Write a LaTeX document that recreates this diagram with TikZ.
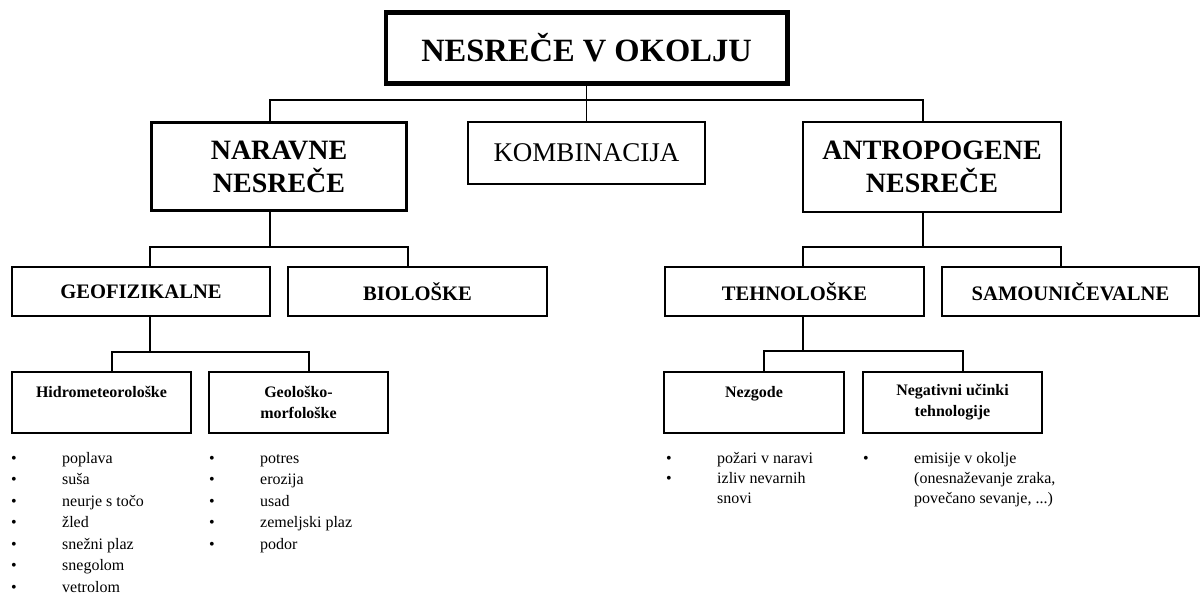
\documentclass[tikz,border=0pt]{standalone}
\usepackage{fontspec}
\setmainfont{Liberation Serif}
\newfontfamily\boxfont{Liberation Serif}

\tikzset{
  box/.style={draw, line width=1.1pt, inner sep=0pt, align=center},
  topbox/.style={box, line width=3.5pt, minimum width=402.5pt, minimum height=72.5pt,
    font=\boxfont\fontsize{32.5}{40}\selectfont\bfseries},
  mainbox/.style={box, minimum width=258pt, minimum height=90pt,
    font=\boxfont\fontsize{28}{33}\selectfont\bfseries},
  groupbox/.style={box, minimum width=258pt, minimum height=49pt,
    font=\boxfont\fontsize{20.6}{25}\selectfont\bfseries},
  typebox/.style={box, minimum width=179pt, minimum height=61pt,
    font=\boxfont\fontsize{16}{21}\selectfont\bfseries},
  itemlist/.style={anchor=base west, inner sep=0pt,
    font=\boxfont\fontsize{16}{21.5}\selectfont},
  link/.style={line width=1.1pt}
}
\newcommand\bul{\makebox[51pt][l]{•}}

\begin{document}
\begin{tikzpicture}[x=1pt,y=-1pt]
  \useasboundingbox (0,0) rectangle (1203,595);

  % top
  \node[topbox] (title) at (586.5,48) {NESREČE V OKOLJU};
  \draw[line width=1.5pt] ([shift={(4,4)}]title.north west)
    rectangle ([shift={(-4,-4)}]title.south east);

  % first level
  \node[mainbox, line width=2.8pt, minimum width=255pt, minimum height=88pt]
    (nar) at (279,166.5) {NARAVNE\\NESREČE};
  \node[box, minimum width=237pt, minimum height=62pt,
    font=\boxfont\fontsize{27}{33}\selectfont] (komb) at (586.5,153) {KOMBINACIJA};
  \node[mainbox] (ant) at (932,167) {ANTROPOGENE\\NESREČE};

  % second level
  \node[groupbox] (geo) at (141,291.5) {GEOFIZIKALNE};
  \node[groupbox, minimum width=259pt] (bio) at (417.5,291.5) {BIOLOŠKE};
  \node[groupbox, minimum width=259pt] (teh) at (794.5,291.5) {TEHNOLOŠKE};
  \node[groupbox, minimum width=257pt] (samo) at (1070.5,291.5) {SAMOUNIČEVALNE};

  % third level
  \node[typebox] (hid) at (101.5,402.5) {Hidrometeorološke\\\mbox{}};
  \node[typebox] (geol) at (298.5,402.5) {Geološko-\\morfološke};
  \node[typebox, minimum width=180pt] (nez) at (754,402.5) {Nezgode\\\mbox{}};
  \node[typebox] (neg) at (952.5,402.5) {Negativni učinki\\tehnologije};

  % lists
  \node[itemlist] (hidlist) at (11,463) {\begin{tabular}[t]{@{}l@{}}
    \bul poplava\\ \bul suša\\ \bul neurje s točo\\ \bul žled\\
    \bul snežni plaz\\ \bul snegolom\\ \bul vetrolom\end{tabular}};
  \node[itemlist] (geollist) at (209,463) {\begin{tabular}[t]{@{}l@{}}
    \bul potres\\ \bul erozija\\ \bul usad\\ \bul zemeljski plaz\\
    \bul podor\end{tabular}};
  \node[itemlist, font=\boxfont\fontsize{16}{20}\selectfont] (nezlist) at (666,463)
    {\begin{tabular}[t]{@{}l@{}}
    \bul požari v naravi\\ \bul izliv nevarnih\\ \hspace{51pt}snovi\end{tabular}};
  \node[itemlist, font=\boxfont\fontsize{16}{20}\selectfont] (neglist) at (863,463)
    {\begin{tabular}[t]{@{}l@{}}
    \bul emisije v okolje\\ \hspace{51pt}(onesnaževanje zraka,\\
    \hspace{51pt}povečano sevanje, ...)\end{tabular}};

  % connectors
  \coordinate (b1) at (586.5,100);
  \draw[link] (title.south) -- (komb.north);
  \draw[link] ([xshift=-9pt]nar.north) |- (b1) -| ([xshift=-9pt]ant.north);

  \coordinate (b2) at (270,247);
  \draw[link] ([xshift=-9pt]nar.south) -- (b2);
  \draw[link] ([xshift=9pt]geo.north) |- (b2) -| ([xshift=-9.5pt]bio.north);
  \coordinate (b3) at (923,247);
  \draw[link] ([xshift=-9pt]ant.south) -- (b3);
  \draw[link] ([xshift=8.5pt]teh.north) |- (b3) -| ([xshift=-9.5pt]samo.north);

  \coordinate (b4) at (150,352);
  \draw[link] ([xshift=9pt]geo.south) -- (b4);
  \draw[link] ([xshift=10.5pt]hid.north) |- (b4) -| ([xshift=10.5pt]geol.north);
  \coordinate (b5) at (803,351);
  \draw[link] ([xshift=8.5pt]teh.south) -- (b5);
  \draw[link] ([xshift=10pt]nez.north) |- (b5) -| ([xshift=10.5pt]neg.north);
\end{tikzpicture}
\end{document}
